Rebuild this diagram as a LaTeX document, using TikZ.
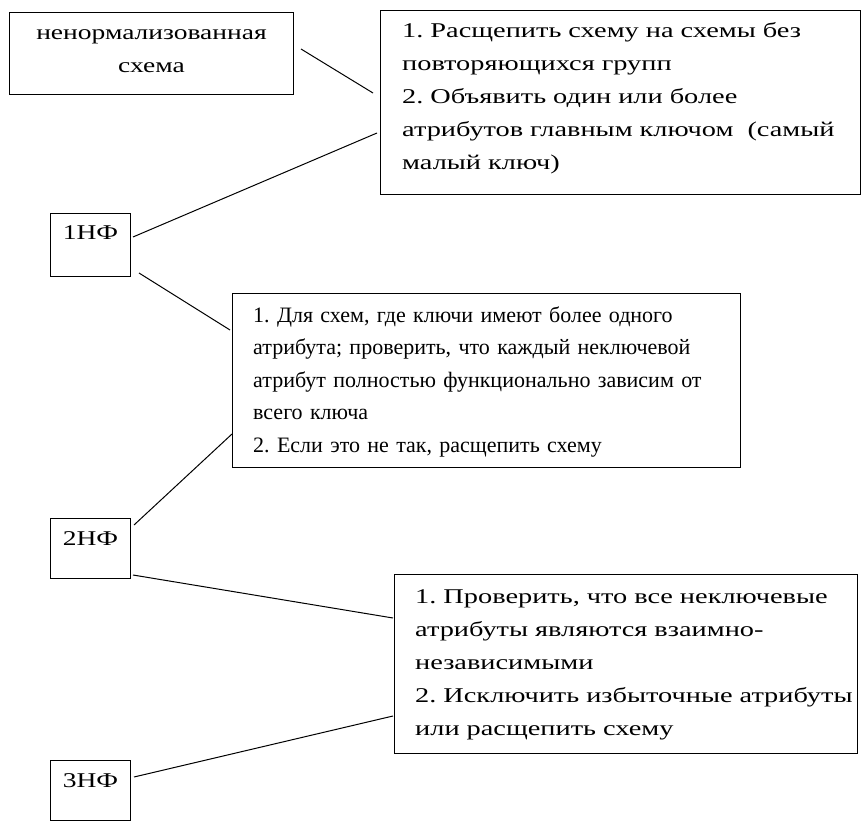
\documentclass[tikz,border=0pt]{standalone}
\usepackage{fontspec}
\setmainfont{Liberation Serif}
\newfontfamily\widefont[FakeStretch=1.31]{Liberation Serif}
\newfontfamily\widerfont[FakeStretch=1.35]{Liberation Serif}
\usetikzlibrary{calc}
\begin{document}
\begin{tikzpicture}[x=1pt,y=-1pt,
  box/.style={draw, line width=1pt, rectangle, inner sep=0pt, anchor=north west},
  txt/.style={inner sep=0pt, font=\widefont\fontsize{21}{33}\selectfont\frenchspacing},
  txtw/.style={inner sep=0pt, font=\widerfont\fontsize{21}{33}\selectfont\frenchspacing},
  txtc/.style={inner sep=0pt, font=\fontsize{22}{32.5}\selectfont\frenchspacing},
  link/.style={line width=1pt}]
\useasboundingbox (0,0) rectangle (862,821);
% boxes
\node[box, minimum width=284pt, minimum height=82pt] (a) at (9,12) {};
\node[box, minimum width=480pt, minimum height=184pt] (b) at (380,10) {};
\node[box, minimum width=80pt, minimum height=63pt] (n1) at (50,213) {};
\node[box, minimum width=508pt, minimum height=174pt] (c) at (232,293) {};
\node[box, minimum width=80pt, minimum height=60pt] (n2) at (50,518) {};
\node[box, minimum width=463pt, minimum height=179pt] (d) at (394,574) {};
\node[box, minimum width=80pt, minimum height=60pt] (n3) at (50,760) {};
% texts
\node[txt, anchor=base, text width=280pt, align=center] (at) at ($(a.north)+(0,28)$) {ненормализованная\\схема};
\node[txtw, anchor=base west, text width=600pt, align=left] (bt) at ($(b.north west)+(22,28)$)
  {1. Расщепить схему на схемы без\\повторяющихся групп\\2. Объявить один или более\\атрибутов главным ключом~ (самый\\малый ключ)};
\node[txtc, anchor=base west, text width=600pt, align=left] (ct) at ($(c.north west)+(21,29)$)
  {1. Для схем, где ключи имеют более одного\\атрибута; проверить, что каждый неключевой\\атрибут полностью функционально зависим от\\всего ключа\\2. Если это не так, расщепить схему};
\node[txtw, anchor=base west, text width=600pt, align=left] (dt) at ($(d.north west)+(21,29)$)
  {1. Проверить, что все неключевые\\атрибуты являются взаимно-\\независимыми\\2. Исключить избыточные атрибуты\\или расщепить схему};
\node[txt, anchor=base] (n1t) at ($(n1.north)+(0,27)$) {1НФ};
\node[txt, anchor=base] (n2t) at ($(n2.north)+(0,27)$) {2НФ};
\node[txt, anchor=base] (n3t) at ($(n3.north)+(0,27)$) {3НФ};
% connectors
\draw[link] ($(a.north east)+(7,37)$) -- ($(b.north west)+(-7,83)$);
\draw[link] ($(n1.north east)+(2,24)$) -- ($(b.north west)+(-3,123)$);
\draw[link] ($(n1.south east)+(8,-4)$) -- ($(c.north west)+(-2,37)$);
\draw[link] ($(n2.north east)+(3,7)$) -- ($(c.north west)+(0,141)$);
\draw[link] ($(n2.south east)+(2,-4)$) -- ($(d.north west)+(-1,44)$);
\draw[link] ($(n3.north east)+(3,17)$) -- ($(d.north west)+(-1,142)$);
\end{tikzpicture}
\end{document}
